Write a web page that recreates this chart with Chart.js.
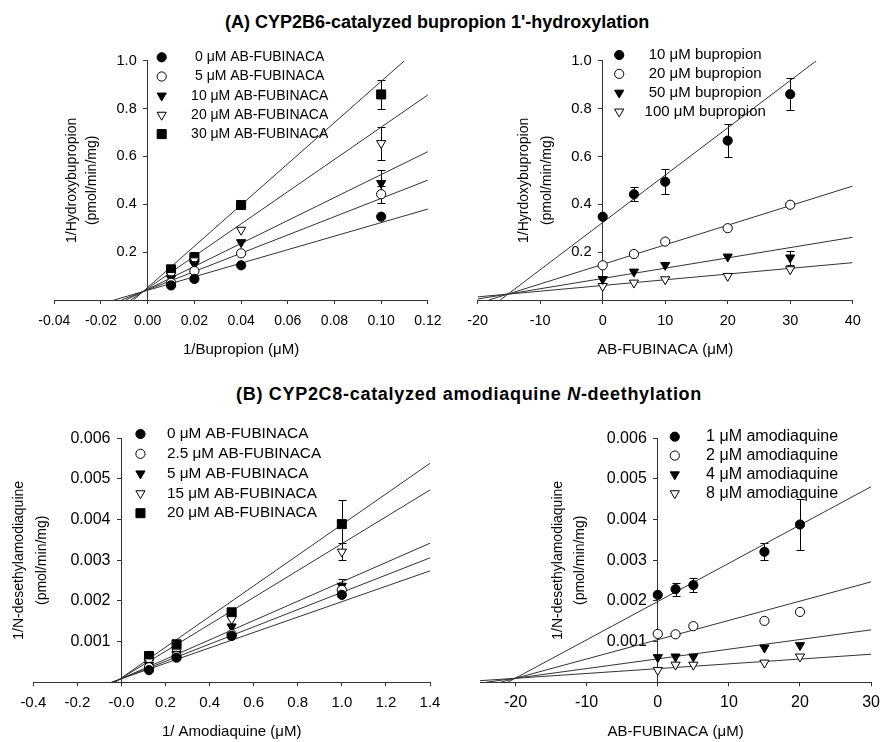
<!DOCTYPE html>
<html lang="en">

<head>
  <meta charset="UTF-8">
  <title>AB-FUBINACA inhibition plots</title>
  <script src="https://cdn.jsdelivr.net/npm/chart.js"></script>
  <style>
    html,
    body {
      margin: 0;
      padding: 0;
      width: 887px;
      height: 742px;
      overflow: hidden;
      background: #fff;
      font-family: "Liberation Sans", Arial, sans-serif;
    }

    .ttl {
      position: absolute;
      font-size: 18px;
      line-height: 18px;
      font-weight: bold;
      white-space: nowrap;
      color: #000;
    }

    .panel {
      position: absolute;
    }

    .panel canvas {
      display: block;
    }
  </style>
</head>

<body>
  <div class="ttl" style="left:225px;top:12.5px">(A) CYP2B6-catalyzed bupropion 1'-hydroxylation</div>
  <div class="ttl" style="left:236px;top:384.5px;letter-spacing:0.7px">(B) CYP2C8-catalyzed amodiaquine <i>N</i>-deethylation</div>

  <div class="panel" style="left:0;top:35px"><canvas id="a1" width="450" height="335"></canvas></div>
  <div class="panel" style="left:440px;top:35px"><canvas id="a2" width="447" height="335"></canvas></div>
  <div class="panel" style="left:0;top:405px"><canvas id="b1" width="450" height="341"></canvas></div>
  <div class="panel" style="left:440px;top:405px"><canvas id="b2" width="447" height="341"></canvas></div>

  <script>
    // (A) left : 1/bupropion, one series per AB-FUBINACA conc.
    const a1X = [0.01, 0.02, 0.04, 0.10];
    const a1Labels = ['0 \u03bcM AB-FUBINACA', '5 \u03bcM AB-FUBINACA', '10 \u03bcM AB-FUBINACA', '20 \u03bcM AB-FUBINACA', '30 \u03bcM AB-FUBINACA'];
    const a1Y = [
      [0.061, 0.088, 0.145, 0.348],
      [0.072, 0.121, 0.195, 0.442],
      [0.090, 0.149, 0.241, 0.488],
      [0.104, 0.165, 0.293, 0.655],
      [0.128, 0.178, 0.397, 0.859]
    ];
    const a1Err = [
      [0, 0, 0, 0],
      [0, 0, 0, 0.035],
      [0, 0, 0, 0.055],
      [0, 0, 0, 0.070],
      [0, 0.024, 0, 0.062]
    ];
    const a1FitStart = [[-0.0144, 0], [-0.0112, 0], [-0.0093, 0], [-0.0072, 0], [-0.0061, 0]];
    const a1FitEnd = [[0.12, 0.380], [0.12, 0.501], [0.12, 0.620], [0.12, 0.857], [0.110, 1.0]];

    // (A) right : AB-FUBINACA, one series per bupropion conc.
    const a2X = [0, 5, 10, 20, 30];
    const a2Labels = ['10 \u03bcM bupropion', '20 \u03bcM bupropion', '50 \u03bcM bupropion', '100 \u03bcM bupropion'];
    const a2Y = [
      [0.348, 0.442, 0.494, 0.666, 0.860],
      [0.145, 0.192, 0.244, 0.300, 0.398],
      [0.087, 0.118, 0.146, 0.181, 0.177],
      [0.058, 0.072, 0.086, 0.100, 0.128]
    ];
    const a2Err = [
      [0, 0.030, 0.052, 0.069, 0.066],
      [0, 0, 0, 0, 0],
      [0, 0, 0, 0, 0.029],
      [0, 0, 0, 0, 0]
    ];
    const a2FitStart = [[-16.4, 0], [-18.2, 0], [-20, 0.004], [-20, 0.013]];
    const a2FitEnd = [[34.2, 1.0], [40, 0.476], [40, 0.262], [40, 0.156]];

    // (B) left : 1/amodiaquine
    const b1X = [0.125, 0.25, 0.5, 1.0];
    const b1Labels = ['0 \u03bcM AB-FUBINACA', '2.5 \u03bcM AB-FUBINACA', '5 \u03bcM AB-FUBINACA', '15 \u03bcM AB-FUBINACA', '20 \u03bcM AB-FUBINACA'];
    const b1Y = [
      [0.00030, 0.000605, 0.00114, 0.00215],
      [0.00037, 0.000647, 0.00118, 0.00227],
      [0.000425, 0.000696, 0.00137, 0.00237],
      [0.00051, 0.00075, 0.00155, 0.00321],
      [0.000647, 0.000934, 0.00172, 0.00389]
    ];
    const b1Err = [
      [0, 0, 0, 0],
      [0, 0, 0, 0],
      [0, 0, 0, 0.00018],
      [0, 0, 0, 0.00021],
      [0, 0, 0, 0.0006]
    ];
    const b1FitStart = [[-0.047, 0], [-0.043, 0], [-0.039, 0], [-0.031, 0], [-0.029, 0]];
    const b1FitEnd = [[1.4, 0.00274], [1.4, 0.00306], [1.4, 0.00342], [1.4, 0.00473], [1.4, 0.005385]];

    // (B) right : AB-FUBINACA, one series per amodiaquine conc.
    const b2X = [0, 2.5, 5, 15, 20];
    const b2Labels = ['1 \u03bcM amodiaquine', '2 \u03bcM amodiaquine', '4 \u03bcM amodiaquine', '8 \u03bcM amodiaquine'];
    const b2Y = [
      [0.00215, 0.00229, 0.00239, 0.00321, 0.00388],
      [0.00119, 0.00118, 0.00138, 0.00151, 0.00173],
      [0.000615, 0.00063, 0.00063, 0.00085, 0.00091],
      [0.00030, 0.00043, 0.00043, 0.00048, 0.00063]
    ];
    const b2Err = [
      [0, 0.00016, 0.00017, 0.00021, 0.00062],
      [0, 0, 0, 0, 0],
      [0, 0, 0, 0, 0],
      [0, 0, 0, 0, 0]
    ];
    const b2FitStart = [[-21.1, 0], [-22.1, 0], [-24.2, 0], [-25, 0.00004]];
    const b2FitEnd = [[30, 0.00481], [30, 0.00247], [30, 0.00129], [30, 0.00069]];

    const FONT = '"Liberation Sans", Arial, sans-serif';
    Chart.defaults.font.family = FONT;
    Chart.defaults.font.size = 14;
    Chart.defaults.color = '#000';

    // filled circle, open circle, filled down-triangle, open down-triangle, filled square
    const markers = [
      { style: 'circle', fill: '#000', r: 4.6, rot: 0 },
      { style: 'circle', fill: '#fff', r: 4.6, rot: 0 },
      { style: 'triangle', fill: '#000', r: 5.3, rot: 180 },
      { style: 'triangle', fill: '#fff', r: 5.3, rot: 180 },
      { style: 'rect', fill: '#000', r: 6.4, rot: 0 }
    ];

    // per-panel layout: fonts, legend + y titles (offsets from the y axis at x = 0)
    const panels = {
      a1: { xTick: 14, xPad: 8.5, yTick: 14.5, legSize: 14, legTop: -3.4, legRow: 19.2, legMark: 14, legText: 112, legAlign: 'center', yTitle: ['1/Hydroxybupropion', '(pmol/min/mg)'], yTitleDx: [-76, -56] },
      a2: { xTick: 14.5, xPad: 8.5, yTick: 14.8, legSize: 15, legTop: -5.7, legRow: 18.9, legMark: 16.5, legText: 102.5, legAlign: 'center', yTitle: ['1/Hyrdoxybupropion', '(pmol/min/mg)'], yTitleDx: [-78.5, -55.5] },
      b1: { xTick: 15, xPad: 7.5, yTick: 16, legSize: 15.3, legTop: -4.3, legRow: 19.8, legMark: 19, legText: 45.5, legAlign: 'left', yTitle: ['1/N-desethylamodiaquine', '(pmol/min/mg)'], yTitleDx: [-102.5, -79] },
      b2: { xTick: 16, xPad: 7, yTick: 16, legSize: 16, legTop: -1.6, legRow: 18.9, legMark: 17, legText: 114.3, legAlign: 'center', yTitle: ['1/N-desethylamodiaquine', '(pmol/min/mg)'], yTitleDx: [-100, -77.5] }
    };

    const panelDecor = {
      id: 'panelDecor',
      beforeDraw(chart) {
        // y axis sits at x = 0; push its labels clear of the tick marks
        const items = chart.scales.y.getLabelItems();
        if (items._shifted) return;
        items._shifted = true;
        items.forEach(it => {
          if (it.options && it.options.translation) it.options.translation[0] -= 11;
        });
      },
      beforeDatasetsDraw(chart) {
        // error bars
        const ctx = chart.ctx;
        const xs = chart.scales.x, ys = chart.scales.y;
        ctx.save();
        ctx.strokeStyle = '#000';
        ctx.lineWidth = 1;
        chart.data.datasets.forEach(ds => {
          if (!ds.errors) return;
          ds.data.forEach((p, j) => {
            const e = ds.errors[j];
            if (!e) return;
            const px = Math.round(xs.getPixelForValue(p.x)) + 0.5;
            const t = Math.round(ys.getPixelForValue(p.y + e)) + 0.5;
            const b = Math.round(ys.getPixelForValue(p.y - e)) + 0.5;
            ctx.beginPath();
            ctx.moveTo(px, t); ctx.lineTo(px, b);
            ctx.moveTo(px - 4, t); ctx.lineTo(px + 4, t);
            ctx.moveTo(px - 4, b); ctx.lineTo(px + 4, b);
            ctx.stroke();
          });
        });
        ctx.restore();
      },
      afterDraw(chart) {
        const p = panels[chart.canvas.id];
        const ctx = chart.ctx;
        const x0 = chart.scales.x.getPixelForValue(0);
        const area = chart.chartArea;
        ctx.save();
        // legend
        chart.data.datasets.forEach((ds, i) => {
          if (!ds.errors) return;
          const y = area.top + p.legTop + i * p.legRow;
          ctx.fillStyle = ds.pointBackgroundColor;
          ctx.strokeStyle = '#000';
          ctx.lineWidth = 1;
          Chart.helpers.drawPoint(ctx, {
            pointStyle: ds.pointStyle, rotation: ds.pointRotation,
            radius: ds.pointRadius, borderWidth: 1
          }, x0 + p.legMark, y);
          ctx.fillStyle = '#000';
          ctx.font = p.legSize + 'px ' + FONT;
          ctx.textAlign = p.legAlign;
          ctx.textBaseline = 'middle';
          ctx.fillText(ds.label, x0 + p.legText, y);
        });
        // y axis titles, two lines, reading bottom to top
        ctx.font = '14px ' + FONT;
        ctx.textAlign = 'center';
        ctx.textBaseline = 'middle';
        p.yTitle.forEach((t, k) => {
          ctx.save();
          ctx.translate(x0 + p.yTitleDx[k], (area.top + area.bottom) / 2);
          ctx.rotate(-Math.PI / 2);
          ctx.fillText(t, 0, 0);
          ctx.restore();
        });
        ctx.restore();
      }
    };

    function buildDatasets(xVals, labels, yVals, errs, fitStart, fitEnd) {
      const sets = [];
      labels.forEach((lab, i) => {
        const m = markers[i];
        sets.push({
          label: lab,
          data: xVals.map((x, j) => ({ x: x, y: yVals[i][j] })),
          errors: errs[i],
          showLine: false,
          pointStyle: m.style,
          pointRotation: m.rot,
          pointRadius: m.r,
          pointHoverRadius: m.r,
          pointBackgroundColor: m.fill,
          pointBorderColor: '#000',
          pointBorderWidth: 1,
          order: 0
        });
      });
      labels.forEach((lab, i) => {
        sets.push({
          label: lab + ' fit',
          data: [
            { x: fitStart[i][0], y: fitStart[i][1] },
            { x: fitEnd[i][0], y: fitEnd[i][1] }
          ],
          showLine: true,
          borderColor: '#333',
          borderWidth: 1,
          pointRadius: 0,
          order: 1
        });
      });
      return sets;
    }

    function makePanel(id, datasets, xr, yr, xTitle, pad) {
      const p = panels[id];
      const axisLine = { color: '#333', width: 1 };
      new Chart(document.getElementById(id), {
        type: 'scatter',
        data: { datasets: datasets },
        options: {
          responsive: false,
          animation: false,
          events: [],
          layout: { padding: pad },
          plugins: {
            legend: { display: false },
            tooltip: { enabled: false }
          },
          scales: {
            x: {
              type: 'linear',
              position: 'bottom',
              min: xr.min,
              max: xr.max,
              border: axisLine,
              grid: { drawOnChartArea: false, drawTicks: true, tickLength: 4, color: '#333' },
              ticks: {
                stepSize: xr.step,
                includeBounds: false,
                padding: p.xPad,
                maxRotation: 0,
                autoSkip: false,
                font: { size: p.xTick },
                callback: v => v.toFixed(xr.dec)
              },
              title: {
                display: true,
                text: xTitle,
                font: { size: 15 },
                padding: { top: 0, bottom: 1 }
              },
              afterFit: s => { s.height = 60; }
            },
            y: {
              type: 'linear',
              position: { x: 0 },
              min: yr.min,
              max: yr.max,
              border: axisLine,
              grid: { drawOnChartArea: false, drawTicks: true, tickLength: 4, color: '#333' },
              ticks: {
                stepSize: yr.step,
                autoSkip: false,
                font: { size: p.yTick },
                callback: v => (Math.abs(v) < 1e-12 ? '' : v.toFixed(yr.dec))
              }
            }
          }
        },
        plugins: [panelDecor]
      });
    }

    makePanel('a1', buildDatasets(a1X, a1Labels, a1Y, a1Err, a1FitStart, a1FitEnd),
      { min: -0.04, max: 0.12, step: 0.02, dec: 2 }, { min: 0, max: 1.0, step: 0.2, dec: 1 },
      '1/Bupropion (\u03bcM)', { left: 54.3, right: 20, top: 25.7, bottom: 10 });

    makePanel('a2', buildDatasets(a2X, a2Labels, a2Y, a2Err, a2FitStart, a2FitEnd),
      { min: -20, max: 40, step: 10, dec: 0 }, { min: 0, max: 1.0, step: 0.2, dec: 1 },
      'AB-FUBINACA (\u03bcM)', { left: 37.7, right: 34.3, top: 25.7, bottom: 10 });

    makePanel('b1', buildDatasets(b1X, b1Labels, b1Y, b1Err, b1FitStart, b1FitEnd),
      { min: -0.4, max: 1.4, step: 0.2, dec: 1 }, { min: 0, max: 0.006, step: 0.001, dec: 3 },
      '1/ Amodiaquine (\u03bcM)', { left: 33.3, right: 20, top: 33.3, bottom: 3.7 });

    makePanel('b2', buildDatasets(b2X, b2Labels, b2Y, b2Err, b2FitStart, b2FitEnd),
      { min: -25, max: 30, step: 10, dec: 0 }, { min: 0, max: 0.006, step: 0.001, dec: 3 },
      'AB-FUBINACA (\u03bcM)', { left: 40, right: 10.3, top: 33.3, bottom: 3.7 });
  </script>
</body>

</html>
